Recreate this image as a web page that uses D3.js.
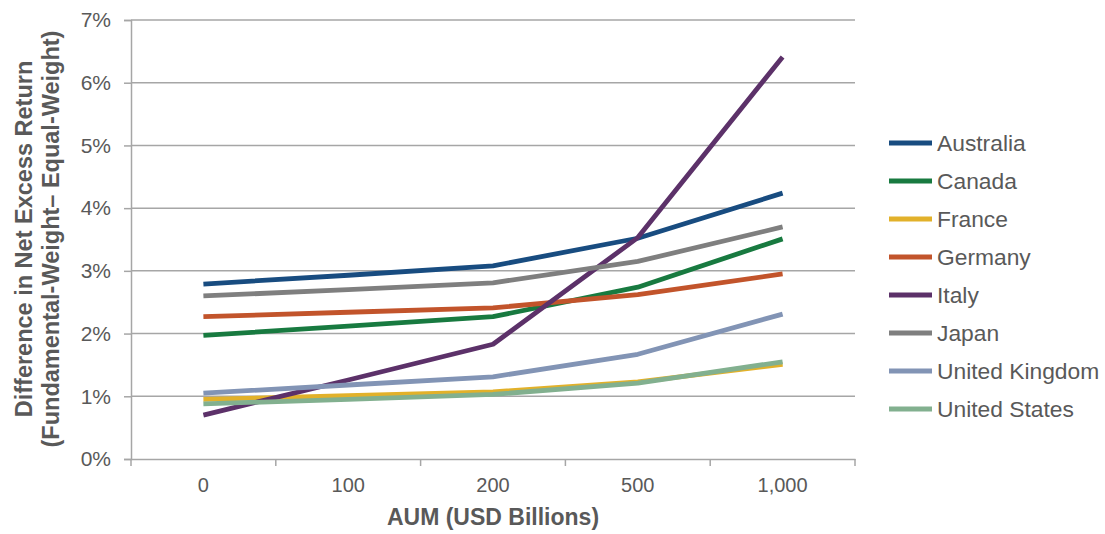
<!DOCTYPE html>
<html>
<head>
<meta charset="utf-8">
<script src="https://cdn.jsdelivr.net/npm/d3@7"></script>
<style>
    body { margin: 0; background: #fff; }
    text { font-family: "Liberation Sans", Arial, sans-serif; fill: #595959; }
</style>
</head>
<body>
<div id="chart"></div>
<script>
// Categories and values (difference in net excess return, %)
const categories = ["0", "100", "200", "500", "1,000"];
const countries = ["Australia", "Canada", "France", "Germany", "Italy", "Japan", "United Kingdom", "United States"];
const colors = ["#184c80", "#187a40", "#e2b12a", "#c2542b", "#5c3169", "#7f7f7f", "#8294b5", "#82b08f"];

const australia = [2.79, 2.93, 3.08, 3.52, 4.24];
const canada = [1.97, 2.12, 2.27, 2.74, 3.51];
const france = [0.95, 1.01, 1.07, 1.23, 1.51];
const germany = [2.27, 2.34, 2.41, 2.62, 2.95];
const italy = [0.70, 1.26, 1.83, 3.53, 6.41];
const japan = [2.60, 2.70, 2.81, 3.15, 3.70];
const uk = [1.05, 1.18, 1.31, 1.67, 2.31];
const us = [0.88, 0.95, 1.03, 1.21, 1.55];

const yTicks = [0, 1, 2, 3, 4, 5, 6, 7];

const seriesValues = [australia, canada, france, germany, italy, japan, uk, us];

const width = 1105;
const height = 534;
const margin = { top: 20, right: 250, bottom: 75, left: 131 };
const plotW = width - margin.left - margin.right;
const plotH = height - margin.top - margin.bottom;

const svg = d3.select("#chart")
    .append("svg")
    .attr("width", width)
    .attr("height", height);

const g = svg.append("g")
    .attr("transform", `translate(${margin.left},${margin.top})`);

// Scales
const xBand = d3.scaleBand()
    .domain(categories)
    .range([0, plotW]);

const x = d => xBand(d) + xBand.bandwidth() / 2;

const y = d3.scaleLinear()
    .domain([0, 7])
    .range([plotH, 0]);

// Gridlines
g.selectAll(".grid")
    .data(yTicks.slice(1))
    .enter()
    .append("line")
    .attr("x1", 0)
    .attr("x2", plotW)
    .attr("y1", d => y(d))
    .attr("y2", d => y(d))
    .attr("stroke", "#a6a6a6")
    .attr("stroke-width", 1.5);

// Y axis
const yAxis = g.append("g")
    .call(d3.axisLeft(y).tickValues(yTicks).tickSize(7).tickPadding(13).tickFormat(d => d + "%"));
yAxis.select(".domain").attr("stroke", "#a6a6a6").attr("stroke-width", 1.5);
yAxis.selectAll(".tick line").attr("stroke", "#a6a6a6").attr("stroke-width", 1.5);
yAxis.selectAll(".tick text")
    .style("font-size", "21px")
    .style("font-family", "'Liberation Sans', Arial, sans-serif")
    .attr("fill", "#595959");

// X axis
const xAxis = g.append("g")
    .attr("transform", `translate(0,${plotH})`)
    .call(d3.axisBottom(xBand).tickSize(0).tickPadding(19).tickSizeOuter(0));
xAxis.select(".domain").attr("stroke", "#a6a6a6").attr("stroke-width", 1.5);
xAxis.selectAll(".tick text")
    .style("font-size", "20px")
    .style("font-family", "'Liberation Sans', Arial, sans-serif")
    .attr("fill", "#595959");

// Tick marks between categories
const boundaries = categories.map(c => xBand(c)).concat([plotW]);
xAxis.selectAll(".bound")
    .data(boundaries)
    .enter()
    .append("line")
    .attr("x1", d => d)
    .attr("x2", d => d)
    .attr("y1", 0)
    .attr("y2", 7)
    .attr("stroke", "#a6a6a6")
    .attr("stroke-width", 1.5);

// Lines
const line = d3.line()
    .x((d, i) => x(categories[i]))
    .y(d => y(d));

g.selectAll(".series")
    .data(seriesValues)
    .enter()
    .append("path")
    .attr("d", line)
    .attr("fill", "none")
    .attr("stroke", (d, i) => colors[i])
    .attr("stroke-width", 4.8)
    .attr("stroke-linejoin", "round");

// Axis titles
svg.append("text")
    .attr("x", margin.left + plotW / 2)
    .attr("y", 525)
    .attr("text-anchor", "middle")
    .style("font-size", "23px")
    .style("font-weight", "bold")
    .text("AUM (USD Billions)");

const yTitle = svg.append("text")
    .attr("transform", "translate(0,239) rotate(-90)")
    .attr("text-anchor", "middle")
    .style("font-size", "23.5px")
    .style("font-weight", "bold");
yTitle.append("tspan").attr("x", 0).attr("y", 32).text("Difference in Net Excess Return");
yTitle.append("tspan").attr("x", 0).attr("y", 59).text("(Fundamental-Weight\u2013 Equal-Weight)");

// Legend
const legend = svg.append("g")
    .attr("transform", "translate(889,143)");

const item = legend.selectAll(".item")
    .data(countries)
    .enter()
    .append("g")
    .attr("transform", (d, i) => `translate(0,${i * 38})`);

item.append("line")
    .attr("x1", 0)
    .attr("x2", 43)
    .attr("stroke", (d, i) => colors[i])
    .attr("stroke-width", 5);

item.append("text")
    .attr("x", 48)
    .attr("dy", "0.35em")
    .style("font-size", "22.8px")
    .text(d => d);
</script>
</body>
</html>
